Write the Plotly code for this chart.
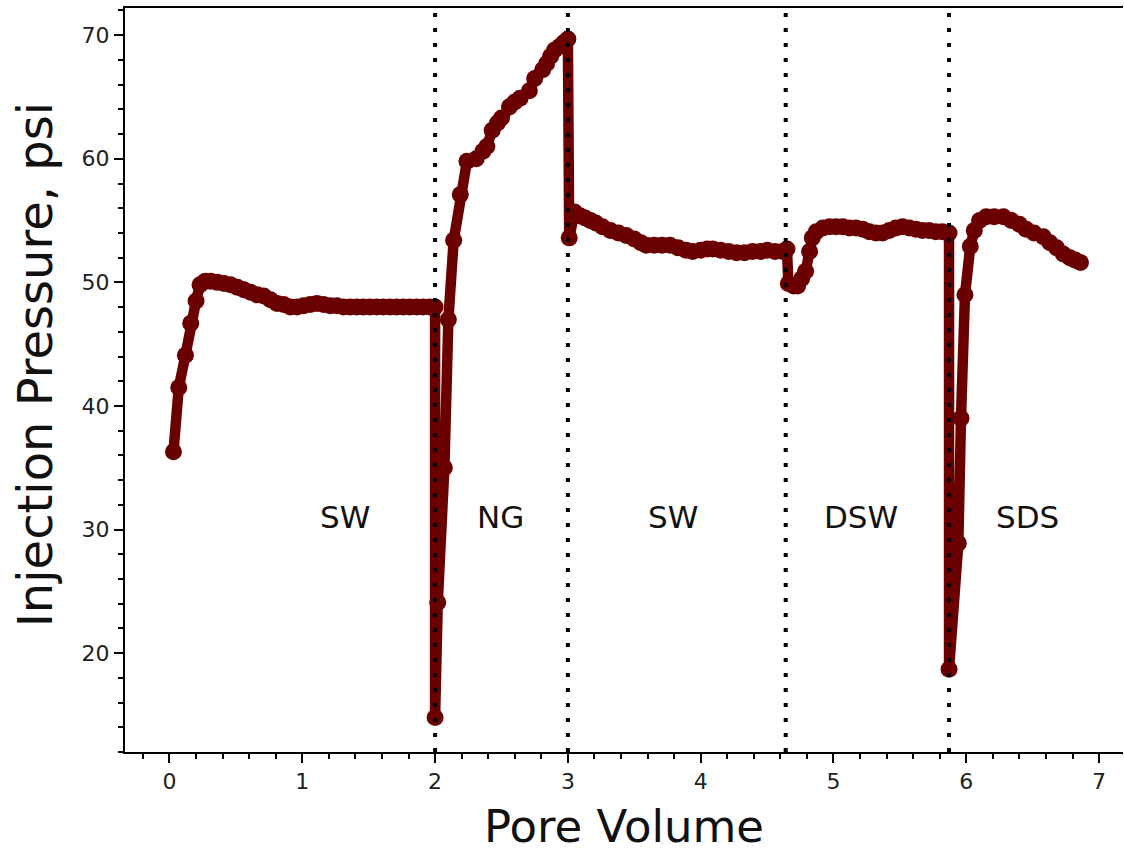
import plotly.graph_objects as go

# Injection pressure history, one list per injected fluid stage
sw1_pv = [0.03, 0.07, 0.12, 0.16, 0.20, 0.23, 0.27, 0.31, 0.36, 0.41, 0.46, 0.51,
          0.56, 0.61, 0.66, 0.71, 0.76, 0.81, 0.86, 0.91, 0.96, 1.01, 1.06, 1.11,
          1.16, 1.21, 1.26, 1.31, 1.36, 1.41, 1.46, 1.51, 1.56, 1.61, 1.66, 1.71,
          1.76, 1.81, 1.86, 1.91, 1.96, 2.00]
sw1_psi = [36.3, 41.5, 44.1, 46.7, 48.5, 49.8, 50.1, 50.1, 50.0, 49.9, 49.8, 49.6,
           49.4, 49.2, 49.0, 48.9, 48.6, 48.3, 48.2, 48.0, 48.0, 48.1, 48.2, 48.3,
           48.2, 48.1, 48.1, 48.0, 48.0, 48.0, 48.0, 48.0, 48.0, 48.0, 48.0, 48.0,
           48.0, 48.0, 48.0, 48.0, 48.0, 48.0]

ng_pv = [2.00, 2.02, 2.07, 2.10, 2.14, 2.19, 2.24, 2.31, 2.36, 2.39, 2.43, 2.47,
         2.50, 2.56, 2.60, 2.64, 2.71, 2.75, 2.81, 2.84, 2.87, 2.90, 2.94, 2.97, 3.00]
ng_psi = [14.8, 24.1, 35.0, 47.0, 53.4, 57.1, 59.8, 60.0, 60.6, 61.0, 62.3, 62.9,
          63.3, 64.2, 64.6, 64.9, 65.5, 66.5, 67.2, 67.7, 68.3, 68.8, 69.1, 69.4, 69.7]

sw2_pv = [3.01, 3.05, 3.09, 3.13, 3.17, 3.21, 3.26, 3.32, 3.38, 3.44, 3.50, 3.55,
          3.59, 3.65, 3.71, 3.77, 3.83, 3.89, 3.94, 4.00, 4.05, 4.09, 4.15, 4.21,
          4.27, 4.33, 4.39, 4.45, 4.50, 4.56, 4.62, 4.65]
sw2_psi = [53.6, 55.7, 55.4, 55.2, 55.0, 54.8, 54.5, 54.2, 54.0, 53.8, 53.5, 53.2,
           53.0, 53.0, 53.0, 53.0, 52.8, 52.6, 52.5, 52.6, 52.7, 52.7, 52.6, 52.5,
           52.4, 52.4, 52.5, 52.5, 52.6, 52.5, 52.5, 52.7]

dsw_pv = [4.66, 4.70, 4.73, 4.76, 4.79, 4.82, 4.84, 4.87, 4.92, 4.97, 5.02, 5.07,
          5.12, 5.17, 5.22, 5.27, 5.32, 5.37, 5.42, 5.47, 5.52, 5.57, 5.62, 5.67,
          5.72, 5.77, 5.82, 5.87]
dsw_psi = [49.9, 49.7, 49.7, 50.3, 50.9, 52.5, 53.6, 54.1, 54.4, 54.5, 54.5, 54.5,
           54.4, 54.4, 54.3, 54.1, 54.0, 54.0, 54.2, 54.4, 54.5, 54.4, 54.3, 54.2,
           54.2, 54.1, 54.1, 54.0]

sds_pv = [5.87, 5.94, 5.96, 5.99, 6.03, 6.06, 6.10, 6.15, 6.21, 6.28, 6.34, 6.40,
          6.45, 6.51, 6.58, 6.63, 6.68, 6.73, 6.78, 6.82, 6.86]
sds_psi = [18.7, 28.9, 39.0, 49.0, 52.9, 54.2, 55.0, 55.3, 55.3, 55.3, 55.0, 54.7,
           54.3, 54.0, 53.7, 53.2, 52.8, 52.3, 52.0, 51.8, 51.6]

# Fluid switch points and stage names
stage_boundaries = [2.0, 3.0, 4.64, 5.87]
stage_names = ["SW", "NG", "SW", "DSW", "SDS"]
stage_label_x = [1.32, 2.49, 3.79, 5.21, 6.46]
stage_label_y = 31

x_ticks = [0, 1, 2, 3, 4, 5, 6, 7]
y_ticks = [20, 30, 40, 50, 60, 70]

pore_volume = sw1_pv + ng_pv + sw2_pv + dsw_pv + sds_pv
pressure = sw1_psi + ng_psi + sw2_psi + dsw_psi + sds_psi

MAROON = "#6b0000"
FONT = "DejaVu Sans"

fig = go.Figure()
fig.add_trace(go.Scatter(
    x=pore_volume, y=pressure, mode="lines+markers",
    line=dict(color=MAROON, width=10.5),
    marker=dict(color=MAROON, size=17, line=dict(width=0)),
    showlegend=False,
))

for xb in stage_boundaries:
    fig.add_shape(type="line", xref="x", yref="paper", x0=xb, x1=xb, y0=0, y1=1,
                  line=dict(color="black", width=4, dash="4px,11px"), layer="above")

for name, lx in zip(stage_names, stage_label_x):
    fig.add_annotation(x=lx, y=stage_label_y, text=name, showarrow=False,
                       font=dict(family=FONT, size=31, color="#111111"))

# Y-axis title placed as a rotated annotation so it can sit slightly above centre
fig.add_annotation(x=-0.09, y=0.52, xref="paper", yref="paper", text="Injection Pressure, psi",
                   textangle=-90, showarrow=False, xanchor="center", yanchor="middle",
                   font=dict(family=FONT, size=48, color="#111111"))

axis_common = dict(
    showline=True, linecolor="black", linewidth=2,
    ticks="outside", ticklen=9, tickwidth=2, tickcolor="black",
    showgrid=False, zeroline=False,
    tickfont=dict(family=FONT, size=22, color="#222222"),
)

fig.update_xaxes(
    range=[-0.335, 7.18], tickvals=x_ticks, mirror=True,
    minor=dict(ticks="outside", dtick=0.2, tick0=0, ticklen=5, tickwidth=1.5, tickcolor="black"),
    title=dict(text="Pore Volume", font=dict(family=FONT, size=45, color="#111111"), standoff=17),
    **axis_common,
)
fig.update_yaxes(
    range=[12.0, 72.2], tickvals=y_ticks, mirror=False,
    minor=dict(ticks="outside", dtick=2, tick0=0, ticklen=5, tickwidth=1.5, tickcolor="black"),
    **axis_common,
)

fig.update_layout(
    width=1124, height=853,
    margin=dict(l=125, r=1, t=8, b=101),
    paper_bgcolor="white", plot_bgcolor="white",
)

fig.write_html("out.html")
